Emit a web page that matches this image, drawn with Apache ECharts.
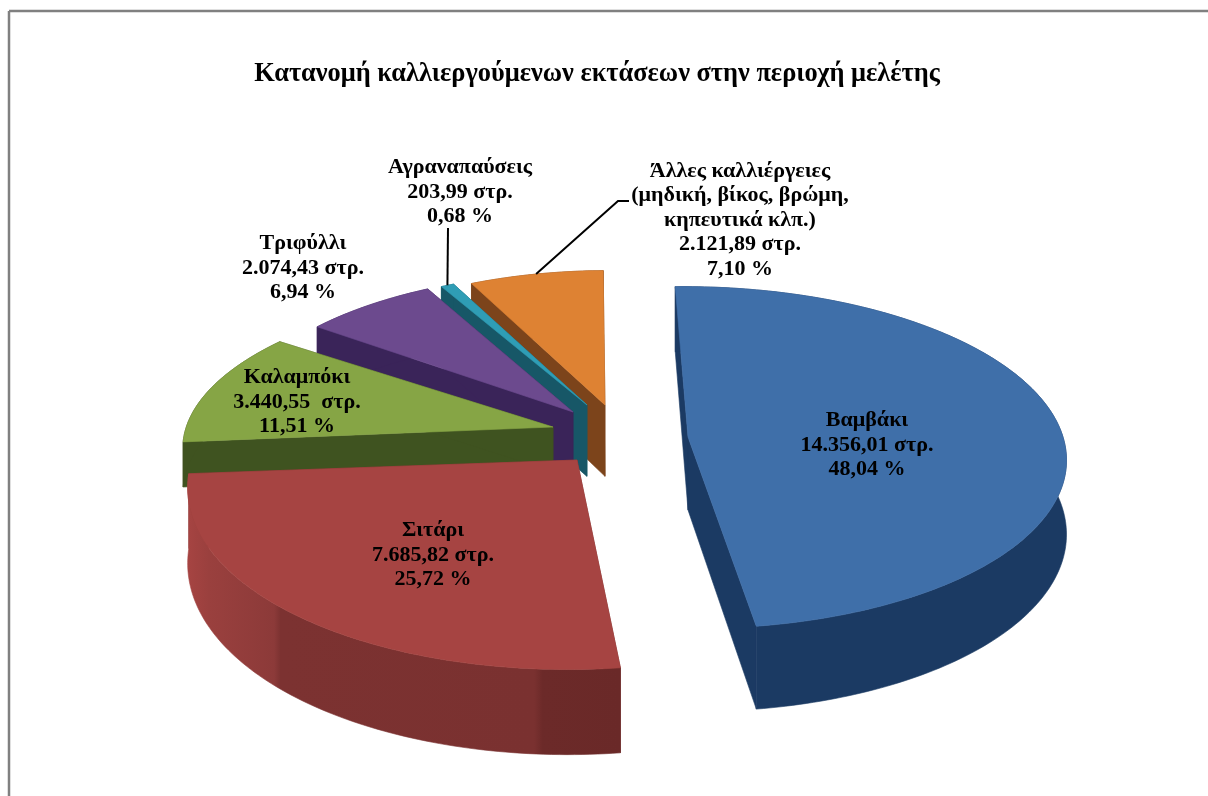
<!DOCTYPE html>
<html>
<head>
<meta charset="utf-8">
<style>
  html, body { margin: 0; padding: 0; background: #fff; }
  #chart { width: 1208px; height: 796px; }
</style>
<script src="https://cdn.jsdelivr.net/npm/echarts@6/dist/echarts.min.js"></script>
</head>
<body>
<div id="chart"></div>
<script>
const chartTitle = 'Κατανομή καλλιεργούμενων εκτάσεων στην περιοχή μελέτης'
const categories = ['Βαμβάκι', 'Σιτάρι', 'Καλαμπόκι', 'Τριφύλλι', 'Αγραναπαύσεις', 'Άλλες καλλιέργειες\n(μηδική, βίκος, βρώμη,\nκηπευτικά κλπ.)']
const areas = [14356.01, 7685.82, 3440.55, 2074.43, 203.99, 2121.89]
const areaLabels = ['14.356,01 στρ.', '7.685,82 στρ.', '3.440,55  στρ.', '2.074,43 στρ.', '203,99 στρ.', '2.121,89 στρ.']
const percents = ['48,04 %', '25,72 %', '11,51 %', '6,94 %', '0,68 %', '7,10 %']

const topColors = ['#3f6fa9', '#a64442', '#86a545', '#6c4a8e', '#2f9db5', '#de8233']
const wallColors = ['#1b3a63', '#7a3130', '#3f5320', '#3a2459', '#175767', '#7c441b']

// exploded position of every slice: apex on screen, radius factor x / z, small turn in degrees, wall height
const apexes = [
  [688, 437, 1, 1.02, -0.3, 73],
  [577, 460, 1.01, 1.07, 1.2, 73],
  [553, 427, 0.985, 0.95, 0, 45],
  [573, 412, 0.93, 0.97, 0, 73],
  [587, 405, 0.925, 0.94, 0, 73],
  [605, 405, 0.915, 0.945, 0, 73]
]
// centre of each label block and (only for the two outer ones) its leader end
const labelPos = [[867, 445], [433, 555], [297, 402], [303, 268], [460, 192], [740, 220]]
const leaders = { 4: [[448, 228]], 5: [[618, 201], [629, 201]] }

// camera
const VX = 640, HORIZON = -963, CAM = 1400, RX = 375, RZ_D = 0.118, START = -1
const total = areas.reduce((a, b) => a + b, 0)

const angles = []
areas.reduce((acc, v) => {
  const next = acc + v / total * 360
  angles.push([acc, next])
  return next
}, START)

function project(i, deg, r, wall) {
  const a = apexes[i]
  const f0 = (a[1] - HORIZON) / CAM
  const wx = (a[0] - VX) / f0
  const t = (deg + a[4]) * Math.PI / 180
  const x = wx + Math.sin(t) * RX * r * a[2]
  const f = 1 / (1 / f0 + Math.cos(t) * RZ_D * r * a[3])
  return [VX + x * f, HORIZON + (CAM + (wall ? a[5] : 0)) * f]
}

function rimPoints(i, wall) {
  const pts = []
  const [s, e] = angles[i]
  const n = Math.max(4, Math.ceil(e - s))
  for (let k = 0; k <= n; k++) pts.push(project(i, s + (e - s) * k / n, 1, wall))
  return pts
}

function wallFill(i) {
  if (i !== 1) return wallColors[i]
  return new echarts.graphic.LinearGradient(0, 0, 1, 0, [
    { offset: 0, color: '#a64442' },
    { offset: 0.05, color: '#9a403e' },
    { offset: 0.2, color: '#8c3a39' },
    { offset: 0.215, color: '#7c3231' },
    { offset: 0.8, color: '#7a3130' },
    { offset: 0.82, color: '#6c2a29' },
    { offset: 1, color: '#6a2928' }
  ])
}

function poly(points, fill) {
  return { type: 'polygon', shape: { points: points }, style: { fill: fill, stroke: fill, lineWidth: 0.6 } }
}

function renderSlice(params, api) {
  const i = api.value(0)
  const top = rimPoints(i, false)
  const bottom = rimPoints(i, true)
  const apexT = project(i, 0, 0, false)
  const apexB = project(i, 0, 0, true)
  const last = top.length - 1
  return {
    type: 'group',
    children: [
      poly([apexT, top[0], bottom[0], apexB], wallColors[i]),
      poly([apexT, top[last], bottom[last], apexB], wallColors[i]),
      poly(top.concat(bottom.slice().reverse()), wallFill(i)),
      poly([apexT].concat(top), topColors[i])
    ]
  }
}

function renderLabel(params, api) {
  const i = api.value(0)
  const children = [{
    type: 'text',
    style: {
      x: labelPos[i][0],
      y: labelPos[i][1],
      text: [categories[i], areaLabels[i], percents[i]].join('\n'),
      align: 'center',
      verticalAlign: 'middle',
      fill: '#000',
      font: 'bold 22px "Liberation Serif"',
      lineHeight: 24.5
    }
  }]
  if (leaders[i]) {
    const mid = (angles[i][0] + angles[i][1]) / 2
    children.push({
      type: 'polyline',
      shape: { points: [project(i, mid, 1, false)].concat(leaders[i]) },
      style: { stroke: '#000', lineWidth: 2, fill: null }
    })
  }
  return { type: 'group', children: children }
}

const chart = echarts.init(document.getElementById('chart'))
const sliceData = areas.map((v, i) => [i, v]).reverse()

chart.setOption({
  animation: false,
  backgroundColor: '#fff',
  title: {
    text: chartTitle,
    left: 592,
    top: 56,
    textAlign: 'center',
    textStyle: { fontFamily: 'Liberation Serif', fontWeight: 'bold', fontSize: 26.4, color: '#000' }
  },
  graphic: [
    { type: 'line', shape: { x1: 9, y1: 11, x2: 1208, y2: 11 }, style: { stroke: '#808080', lineWidth: 2.5 } },
    { type: 'line', shape: { x1: 9, y1: 11, x2: 9, y2: 796 }, style: { stroke: '#808080', lineWidth: 2.5 } }
  ],
  series: [
    { type: 'custom', coordinateSystem: 'none', renderItem: renderSlice, data: sliceData, silent: true, z: 2 },
    { type: 'custom', coordinateSystem: 'none', renderItem: renderLabel, data: sliceData, silent: true, z: 3 }
  ]
})
</script>
</body>
</html>
